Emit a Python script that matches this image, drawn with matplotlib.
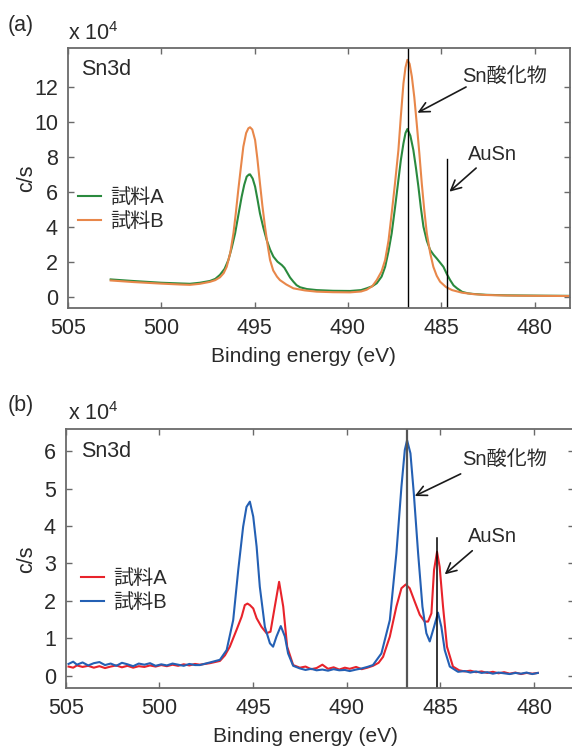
import matplotlib
matplotlib.use("Agg")
import matplotlib.pyplot as plt

plt.rcParams['font.family'] = ['Liberation Sans', 'Noto Sans CJK JP', 'DejaVu Sans']
plt.rcParams['mathtext.fontset'] = 'custom'
plt.rcParams['mathtext.rm'] = 'Liberation Sans'
plt.rcParams['mathtext.it'] = 'Liberation Sans:italic'

# ---------------- data (panel a) ----------------
a_A_x = [502.7, 501.5, 500.0, 499.0, 498.46, 497.92, 497.39, 497.1, 496.85, 496.6, 496.4, 496.22,
         496.04, 495.86, 495.69, 495.55, 495.42, 495.3, 495.24, 495.1, 494.97, 494.84, 494.71,
         494.53, 494.35, 494.17, 493.99, 493.77, 493.54, 493.4, 493.28, 493.1, 492.92, 492.75,
         492.56, 492.2, 491.67, 490.8, 489.89, 489.3, 489.0, 488.7, 488.46, 488.2, 488.01, 487.83,
         487.66, 487.48, 487.3, 487.17, 487.03, 486.92, 486.82, 486.66, 486.5, 486.36, 486.23,
         486.1, 485.96, 485.78, 485.6, 485.42, 485.25, 485.07, 484.89, 484.71, 484.53, 484.35,
         484.16, 483.89, 483.6, 483.3, 482.6, 481.5, 480.5, 479.5, 478.1]
a_A_y = [0.99, 0.90, 0.80, 0.76, 0.74, 0.80, 0.90, 1.02, 1.25, 1.60, 2.10, 2.80,
         3.62, 4.70, 5.71, 6.40, 6.86, 6.98, 6.99, 6.75, 6.29, 5.55, 4.76,
         3.95, 3.24, 2.70, 2.29, 2.00, 1.81, 1.65, 1.43, 1.10, 0.86, 0.66,
         0.54, 0.44, 0.38, 0.34, 0.33, 0.38, 0.48, 0.60, 0.77, 1.15, 1.71, 2.60,
         3.62, 5.10, 6.67, 7.80, 8.76, 9.35, 9.58, 9.20, 8.38, 7.35, 6.29,
         5.10, 4.00, 3.20, 2.67, 2.40, 2.19, 1.95, 1.71, 1.30, 0.95, 0.65,
         0.48, 0.28, 0.20, 0.16, 0.11, 0.08, 0.07, 0.06, 0.05]

a_B_x = [502.7, 501.5, 500.0, 499.0, 498.46, 497.92, 497.39, 497.1, 496.85, 496.65, 496.49, 496.3,
         496.13, 496.0, 495.87, 495.73, 495.6, 495.45, 495.33, 495.24, 495.12, 494.97, 494.85,
         494.71, 494.58, 494.44, 494.3, 494.17, 494.0, 493.8, 493.64, 493.3, 492.92, 492.3,
         491.67, 490.8, 489.89, 489.3, 489.0, 488.7, 488.46, 488.2, 488.01, 487.83, 487.66,
         487.48, 487.3, 487.17, 487.03, 486.92, 486.82, 486.7, 486.58, 486.45, 486.32, 486.18,
         486.05, 485.92, 485.78, 485.6, 485.43, 485.25, 485.07, 484.75, 484.43, 483.89, 483.3,
         482.64, 481.5, 480.86, 479.5, 478.1]
a_B_y = [0.93, 0.84, 0.75, 0.70, 0.68, 0.74, 0.85, 0.95, 1.11, 1.35, 1.71, 2.50,
         3.62, 4.80, 6.10, 7.40, 8.57, 9.35, 9.62, 9.68, 9.55, 8.95, 7.90,
         6.48, 5.20, 4.00, 2.95, 2.10, 1.50, 1.15, 0.95, 0.70, 0.48, 0.36,
         0.29, 0.26, 0.25, 0.30, 0.40, 0.60, 0.95, 1.45, 2.10, 3.20, 4.76,
         6.50, 8.38, 10.30, 12.19, 13.10, 13.53, 13.30, 12.57, 11.40, 9.90, 8.20,
         6.48, 5.00, 3.62, 2.50, 1.71, 1.20, 0.86, 0.55, 0.38, 0.23, 0.15,
         0.10, 0.07, 0.06, 0.05, 0.04]

# ---------------- data (panel b) ----------------
b_A_x = [504.85, 504.6, 504.4, 504.1, 503.8, 503.5, 503.2, 502.9, 502.6, 502.3, 502.0, 501.7,
         501.4, 501.1, 500.8, 500.5, 500.2, 499.9, 499.6, 499.3, 499.0, 498.7, 498.4, 498.1,
         497.84, 497.3, 496.77, 496.5, 496.24, 495.88, 495.61, 495.44, 495.3, 495.17, 494.99,
         494.81, 494.55, 494.28, 494.07, 493.84, 493.61, 493.39, 493.18, 492.86, 492.5, 492.2,
         491.9, 491.61, 491.3, 491.0, 490.7, 490.4, 490.1, 489.84, 489.5, 489.2, 488.9, 488.6,
         488.3, 488.06, 487.7, 487.35, 487.08, 486.85, 486.64, 486.37, 486.1, 485.84, 485.66,
         485.48, 485.34, 485.18, 485.04, 484.86, 484.65, 484.33, 484.0, 483.7, 483.4, 483.1,
         482.8, 482.5, 482.2, 481.9, 481.6, 481.3, 481.0, 480.7, 480.4, 480.1, 479.8]
b_A_y = [0.25, 0.22, 0.28, 0.24, 0.27, 0.22, 0.26, 0.21, 0.25, 0.28, 0.23, 0.27,
         0.22, 0.26, 0.24, 0.28, 0.25, 0.29, 0.26, 0.30, 0.27, 0.31, 0.28, 0.32,
         0.30, 0.34, 0.40, 0.55, 0.78, 1.23, 1.58, 1.89, 1.93, 1.89, 1.80,
         1.54, 1.31, 1.14, 1.18, 1.85, 2.51, 1.85, 0.78, 0.29, 0.22, 0.25,
         0.18, 0.21, 0.30, 0.19, 0.23, 0.17, 0.22, 0.19, 0.24, 0.18, 0.22, 0.27,
         0.35, 0.51, 1.05, 1.85, 2.34, 2.44, 2.34, 1.98, 1.63, 1.45, 1.45,
         1.67, 2.83, 3.31, 2.91, 1.85, 0.78, 0.25, 0.15, 0.12, 0.14, 0.10,
         0.12, 0.08, 0.11, 0.07, 0.10, 0.06, 0.09, 0.05, 0.08, 0.06, 0.08]

b_B_x = [504.85, 504.6, 504.4, 504.1, 503.8, 503.5, 503.2, 502.9, 502.6, 502.3, 502.0, 501.7,
         501.4, 501.1, 500.8, 500.5, 500.2, 499.9, 499.6, 499.3, 499.0, 498.7, 498.4, 498.1,
         497.84, 497.3, 496.77, 496.41, 496.06, 495.79, 495.53, 495.35, 495.17, 494.99, 494.81,
         494.64, 494.37, 494.1, 493.93, 493.75, 493.52, 493.3, 493.13, 492.86, 492.5, 492.2,
         491.9, 491.61, 491.3, 491.0, 490.7, 490.4, 490.1, 489.84, 489.5, 489.2, 488.9, 488.6,
         488.15, 487.7, 487.35, 487.08, 486.9, 486.78, 486.6, 486.42, 486.19, 485.96, 485.75,
         485.57, 485.34, 485.13, 484.95, 484.77, 484.5, 484.06, 483.7, 483.4, 483.1, 482.8,
         482.5, 482.2, 481.9, 481.6, 481.3, 481.0, 480.7, 480.4, 480.1, 479.8]
b_B_y = [0.32, 0.38, 0.30, 0.36, 0.28, 0.34, 0.37, 0.29, 0.33, 0.27, 0.35, 0.31,
         0.26, 0.33, 0.30, 0.34, 0.27, 0.31, 0.28, 0.33, 0.30, 0.27, 0.32, 0.29,
         0.29, 0.36, 0.43, 0.69, 1.49, 2.83, 3.98, 4.51, 4.65, 4.25, 3.45,
         2.38, 1.31, 0.87, 0.78, 1.05, 1.33, 1.05, 0.60, 0.27, 0.20, 0.16,
         0.19, 0.15, 0.17, 0.14, 0.18, 0.15, 0.16, 0.13, 0.17, 0.20, 0.24, 0.29,
         0.60, 1.49, 3.27, 5.05, 6.03, 6.29, 5.94, 4.87, 3.27, 1.85, 1.14,
         0.92, 1.31, 1.69, 1.31, 0.69, 0.25, 0.11, 0.13, 0.09, 0.12, 0.08,
         0.10, 0.06, 0.09, 0.07, 0.05, 0.08, 0.06, 0.09, 0.05, 0.08]

x_ticks = [505, 500, 495, 490, 485, 480]
a_y_ticks = [0, 2, 4, 6, 8, 10, 12]
b_y_ticks = [0, 1, 2, 3, 4, 5, 6]
legend_labels = ['試料A', '試料B']

W, H = 572, 747
fig = plt.figure(figsize=(W / 100, H / 100), dpi=100)

def frac_axes(l, t, r, b):
    return fig.add_axes([l / W, 1 - b / H, (r - l) / W, (b - t) / H])

ax1 = frac_axes(67.7, 48.3, 570.3, 308.3)
ax2 = frac_axes(65.7, 429.3, 574.0, 688.3)

spine_c = '#6a6a6a'
txt_c = '#2a2a2a'
FS = 15.5

def style(ax, yticks, xlim, ylim):
    ax.set_xlim(*xlim)
    ax.set_ylim(*ylim)
    ax.set_xticks(x_ticks)
    ax.set_yticks(yticks)
    ax.tick_params(direction='in', length=4, width=1, color=spine_c, top=True, right=True,
                   labelsize=FS, labelcolor=txt_c, pad=7)
    for s in ax.spines.values():
        s.set_color(spine_c)
        s.set_linewidth(1.3)
    ax.set_xlabel('Binding energy (eV)', fontsize=15, color=txt_c, va='center')
    ax.set_ylabel('c/s', fontsize=FS, color=txt_c, va='center')

# ---- panel a
lA, = ax1.plot(a_A_x, a_A_y, color='#2a8a3e', lw=1.5)
lB, = ax1.plot(a_B_x, a_B_y, color='#e8874a', lw=1.5)
style(ax1, a_y_ticks, (505, 478.1), (-0.66, 14.19))
ax1.xaxis.set_label_coords(0.47, -0.187)
ax1.yaxis.set_label_coords(-0.081, 0.5)
ax1.plot([486.81, 486.81], [-0.66, 14.19], color='black', lw=1.0)
ax1.plot([484.68, 484.68], [-0.66, 7.85], color='black', lw=1.0)
ax1.text(483.89, 12.5, 'Sn酸化物', fontsize=14.5, color=txt_c, ha='left', va='center')
ax1.text(483.57, 8.1, 'AuSn', fontsize=14.5, color=txt_c, ha='left', va='center')
ax1.annotate('', xy=(486.28, 10.51), xytext=(483.68, 11.98),
             arrowprops=dict(arrowstyle='->', color='#1a1a1a', lw=1.2, mutation_scale=18, shrinkA=0, shrinkB=0))
ax1.annotate('', xy=(484.57, 6.0), xytext=(483.14, 7.35),
             arrowprops=dict(arrowstyle='->', color='#1a1a1a', lw=1.2, mutation_scale=18, shrinkA=0, shrinkB=0))
ax1.text(0.026, 0.917, 'Sn3d', transform=ax1.transAxes, fontsize=FS, color=txt_c, ha='left', va='center')
ax1.legend([lA, lB], legend_labels, loc='center left', bbox_to_anchor=(0.0205, 0.38), frameon=False,
           fontsize=14.5, handlelength=1.15, handletextpad=0.45, labelspacing=0.25, borderpad=0,
           borderaxespad=0, labelcolor=txt_c)

# ---- panel b
rA, = ax2.plot(b_A_x, b_A_y, color='#e8232b', lw=1.5)
rB, = ax2.plot(b_B_x, b_B_y, color='#2460b4', lw=1.5)
style(ax2, b_y_ticks, (505, 477.87), (-0.33, 6.58))
ax2.xaxis.set_label_coords(0.472, -0.188)
ax2.yaxis.set_label_coords(-0.077, 0.5)
ax2.plot([486.81, 486.81], [-0.33, 6.58], color='#555555', lw=1.6)
ax2.plot([485.18, 485.18], [-0.33, 3.67], color='black', lw=1.1)
ax2.text(483.86, 5.76, 'Sn酸化物', fontsize=14.5, color=txt_c, ha='left', va='center')
ax2.text(483.54, 3.71, 'AuSn', fontsize=14.5, color=txt_c, ha='left', va='center')
ax2.annotate('', xy=(486.37, 4.8), xytext=(483.92, 5.39),
             arrowprops=dict(arrowstyle='->', color='#1a1a1a', lw=1.2, mutation_scale=18, shrinkA=0, shrinkB=0))
ax2.annotate('', xy=(484.77, 2.71), xytext=(483.3, 3.34),
             arrowprops=dict(arrowstyle='->', color='#1a1a1a', lw=1.2, mutation_scale=18, shrinkA=0, shrinkB=0))
ax2.text(0.03, 0.916, 'Sn3d', transform=ax2.transAxes, fontsize=FS, color=txt_c, ha='left', va='center')
ax2.legend([rA, rB], legend_labels, loc='center left', bbox_to_anchor=(0.030, 0.378), frameon=False,
           fontsize=14.5, handlelength=1.15, handletextpad=0.45, labelspacing=0.25, borderpad=0,
           borderaxespad=0, labelcolor=txt_c)

# panel letters and multipliers
fig.text(8 / W, 1 - 25 / H, '(a)', fontsize=FS, color=txt_c, ha='left', va='center')
fig.text(68 / W, 1 - 34 / H, 'x 10$^4$', fontsize=FS, color=txt_c, ha='left', va='center')
fig.text(8 / W, 1 - 406 / H, '(b)', fontsize=FS, color=txt_c, ha='left', va='center')
fig.text(68 / W, 1 - 414 / H, 'x 10$^4$', fontsize=FS, color=txt_c, ha='left', va='center')

fig.savefig('out.png', dpi=100)
